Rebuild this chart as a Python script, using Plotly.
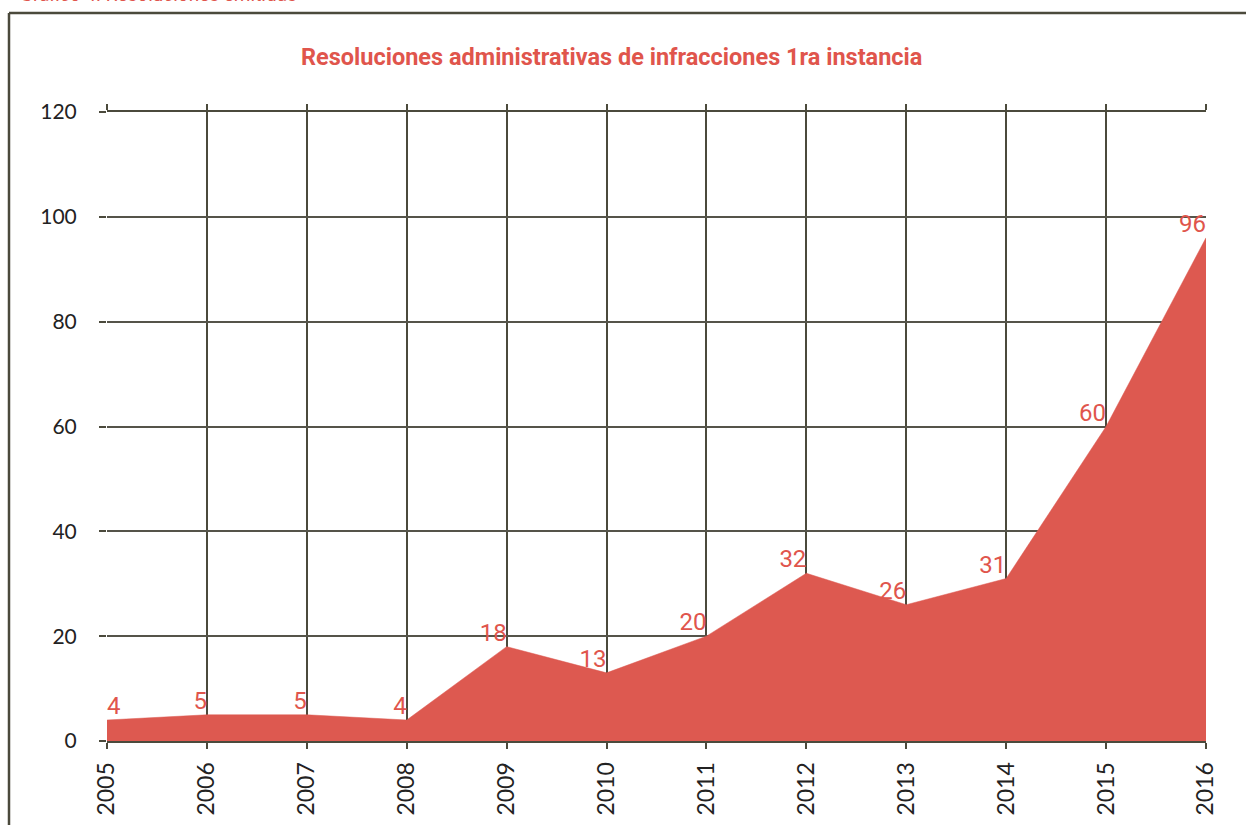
import plotly.graph_objects as go

years = [2005, 2006, 2007, 2008, 2009, 2010, 2011, 2012, 2013, 2014, 2015, 2016]
values = [4, 5, 5, 4, 18, 13, 20, 32, 26, 31, 60, 96]
labels = [str(v) for v in values]
label_pos = ["top right"] + ["top left"] * 11
y_ticks = [0, 20, 40, 60, 80, 100, 120]

title_text = "Resoluciones administrativas de infracciones 1ra instancia"
caption_text = "Gráfico 4. Resoluciones emitidas"

RED = "#dd5950"
TXT_RED = "#e0554c"
GRID = "#4b4a3c"

W, H = 1246, 825
L, R, T, B = 107, 40, 112, 84
pw = W - L - R
ph = H - T - B

def px_x(x):
    return (x - L) / pw

def px_y(y):
    return 1 + (T - y) / ph

fig = go.Figure()
fig.add_trace(go.Scatter(
    x=years, y=values, mode="lines+text", fill="tozeroy",
    fillcolor=RED, line=dict(color=RED, width=0.5),
    text=labels, textposition=label_pos,
    textfont=dict(family="Roboto, sans-serif", size=24, color=TXT_RED),
    hoverinfo="x+y", showlegend=False,
))

fig.update_layout(
    width=W, height=H,
    margin=dict(l=L, r=R, t=T, b=B),
    paper_bgcolor="white", plot_bgcolor="white",
    showlegend=False,
    xaxis=dict(
        range=[2005, 2016], tickmode="array", tickvals=years,
        ticktext=[str(y) for y in years], tickangle=-90,
        showgrid=True, gridcolor=GRID, gridwidth=2,
        showline=True, linecolor=GRID, linewidth=2,
        ticks="outside", ticklen=6, tickwidth=2, tickcolor=GRID,
        mirror="ticks", zeroline=False, automargin=False,
        tickfont=dict(family="Lato, sans-serif", size=23, color="#222222"),
        ticklabelstandoff=4,
    ),
    yaxis=dict(
        range=[0, 120], tickmode="array", tickvals=y_ticks,
        showgrid=True, gridcolor="#55544a", gridwidth=1.5,
        showline=False, zeroline=False, automargin=False,
        ticks="outside", ticklen=7, tickwidth=1.5, tickcolor=GRID,
        tickfont=dict(family="Lato, sans-serif", size=21, color="#222222"),
        ticklabelstandoff=18,
    ),
    annotations=[
        dict(text="<b>" + title_text + "</b>", xref="paper", yref="paper",
             x=px_x(611), y=px_y(57), xanchor="center", yanchor="middle",
             showarrow=False,
             font=dict(family="Roboto, sans-serif", size=23.5, color=TXT_RED)),
        dict(text=caption_text, xref="paper", yref="paper",
             x=px_x(18), y=px_y(8), xanchor="left", yanchor="bottom",
             showarrow=False,
             font=dict(family="Roboto, sans-serif", size=19, color=TXT_RED)),
    ],
    shapes=[
        dict(type="line", xref="paper", yref="paper", x0=px_x(9), x1=px_x(1260),
             y0=px_y(13), y1=px_y(13), line=dict(color=GRID, width=2.5)),
        dict(type="line", xref="paper", yref="paper", x0=px_x(9), x1=px_x(9),
             y0=px_y(13), y1=px_y(840), line=dict(color=GRID, width=2.5)),
    ],
)

fig.write_html("out.html", config={"displayModeBar": False},
               post_script="document.body.style.margin='0px';")
